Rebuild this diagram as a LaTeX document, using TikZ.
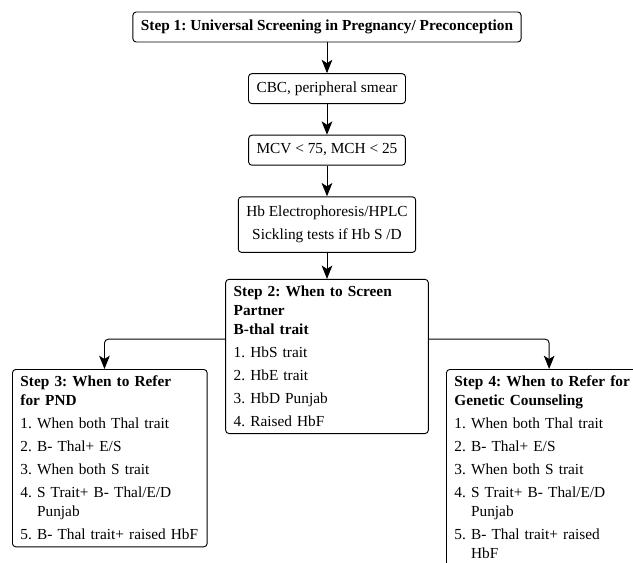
\documentclass[tikz,border=0pt]{standalone}
\usepackage{fontspec}
\setmainfont{Liberation Serif}
\usetikzlibrary{arrows.meta,positioning}
\frenchspacing

\begin{document}
\begin{tikzpicture}[
    x=0.75pt, y=-0.75pt,
    node distance=23pt,
    box/.style={rectangle, rounded corners=2.5pt, draw, line width=0.7pt, fill=white, inner xsep=6pt, inner ysep=6pt, font=\fontsize{11.5}{14.25}\selectfont},
    flowbox/.style={box, align=center, text height=8pt, text depth=2.5pt},
    listbox/.style={box, align=left, text width=#1, inner ysep=5pt},
    arrow/.style={-{Stealth[length=10pt,width=8pt,inset=2.5pt]}, line width=0.7pt}
]
\useasboundingbox (0,0) rectangle (633,562);
\clip (0,0) rectangle (633,562);

\node[flowbox] (universal) at (327,27) {\textbf{Step 1: Universal Screening in Pregnancy/ Preconception}};
\node[flowbox, below=of universal] (cbc) {CBC, peripheral smear};
\node[flowbox, below=of cbc] (mcv) {MCV < 75, MCH < 25};
\node[box, align=center, below=of mcv, inner ysep=7pt] (hplc) {Hb Electrophoresis/HPLC\\[3pt]Sickling tests if Hb S /D};
\node[listbox=140pt, below=19.5pt of hplc] (partner) {\textbf{Step 2: When to Screen}\\\textbf{Partner}\\\textbf{B-thal trait}\\[3pt]1. HbS trait\\[3pt]2. HbE trait\\[3pt]3. HbD Punjab\\[3pt]4. Raised HbF};
\node[listbox=134pt, anchor=north west] (pnd) at (12,369) {\textbf{Step 3: When to Refer}\\\textbf{for PND}\\[3pt]1. When both Thal trait\\[3pt]2. B- Thal+ E/S\\[3pt]3. When both S trait\\[3pt]4. S Trait+ B- Thal/E/D\\\phantom{4. }Punjab\\[3pt]\mbox{5. B- Thal trait+ raised HbF}};
\node[listbox=134pt, anchor=north west] (counsel) at (446,369) {\textbf{Step 4: When to Refer for}\\\textbf{Genetic Counseling}\\[3pt]1. When both Thal trait\\[3pt]2. B- Thal+ E/S\\[3pt]3. When both S trait\\[3pt]4. S Trait+ B- Thal/E/D\\\phantom{4. }Punjab\\[3pt]5. B- Thal trait+ raised\\\phantom{5. }HbF};

\draw[arrow] (universal) -- (cbc);
\draw[arrow] (cbc) -- (mcv);
\draw[arrow] (mcv) -- (hplc);
\draw[arrow] (hplc) -- (partner);
\draw[arrow, rounded corners=3pt] ([yshift=13pt]partner.west) -| ([xshift=-4pt]pnd.north);
\draw[arrow, rounded corners=3pt] ([yshift=13pt]partner.east) -| ([xshift=4pt]counsel.north);
\end{tikzpicture}
\end{document}
